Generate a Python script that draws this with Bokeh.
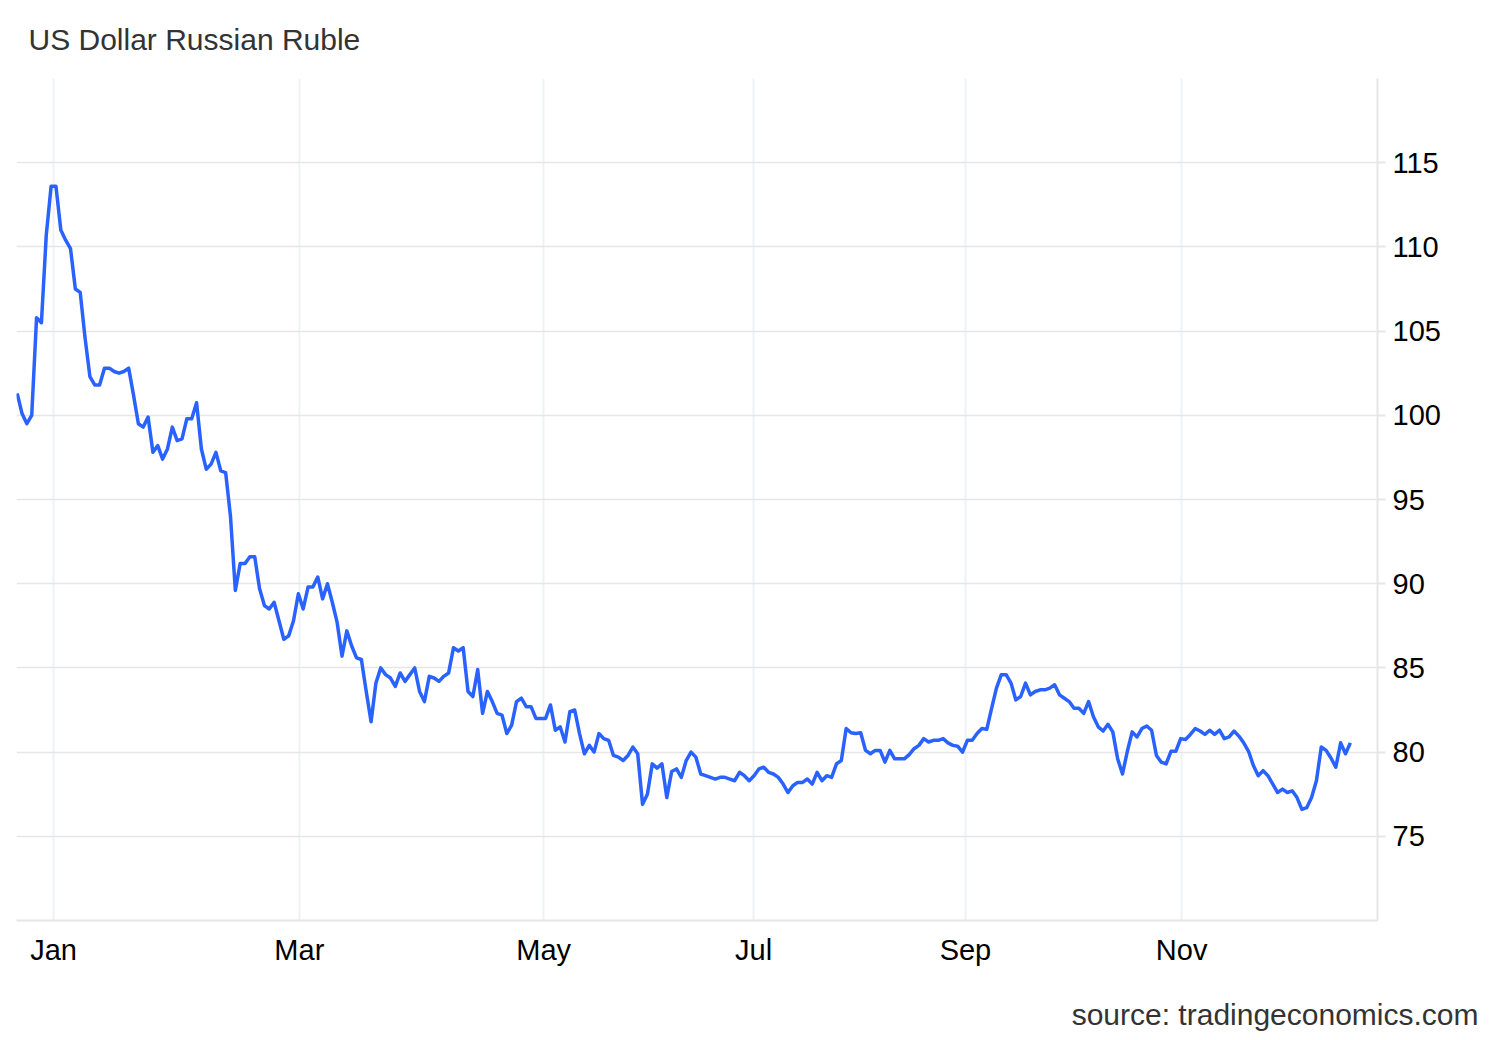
from bokeh.plotting import figure
from bokeh.models import Range1d, FixedTicker, Title, ColumnDataSource
from bokeh.embed import file_html
from bokeh.resources import INLINE

usd_rub = [
    101.3, 100.1, 99.5, 100.0, 105.8, 105.5, 110.7, 113.6, 113.6, 111.0,
    110.4, 109.9, 107.5, 107.3, 104.6, 102.3, 101.8, 101.8, 102.8, 102.8,
    102.6, 102.5, 102.6, 102.8, 101.2, 99.5, 99.3, 99.9, 97.8, 98.2,
    97.4, 98.0, 99.3, 98.5, 98.6, 99.8, 99.8, 100.75, 98.0, 96.8,
    97.1, 97.8, 96.7, 96.6, 94.0, 89.6, 91.2, 91.2, 91.6, 91.6,
    89.7, 88.7, 88.5, 88.9, 87.8, 86.7, 86.9, 87.8, 89.4, 88.5,
    89.8, 89.8, 90.4, 89.1, 90.0, 88.9, 87.7, 85.7, 87.2, 86.3,
    85.6, 85.5, 83.6, 81.8, 84.1, 85.0, 84.6, 84.4, 83.9, 84.7,
    84.2, 84.6, 85.0, 83.6, 83.0, 84.5, 84.4, 84.2, 84.5, 84.7,
    86.2, 86.0, 86.2, 83.6, 83.3, 84.9, 82.3, 83.6, 83.0, 82.3,
    82.2, 81.1, 81.6, 83.0, 83.2, 82.7, 82.7, 82.0, 82.0, 82.0,
    82.8, 81.3, 81.5, 80.6, 82.4, 82.5, 81.1, 79.9, 80.4, 80.0,
    81.1, 80.8, 80.7, 79.8, 79.7, 79.5, 79.8, 80.3, 79.9, 76.9,
    77.5, 79.3, 79.05, 79.3, 77.3, 78.85, 79.0, 78.5, 79.5, 80.0,
    79.7, 78.7, 78.6, 78.5, 78.4, 78.5, 78.5, 78.4, 78.3, 78.8,
    78.6, 78.3, 78.6, 79.0, 79.1, 78.8, 78.7, 78.5, 78.1, 77.6,
    78.0, 78.2, 78.2, 78.4, 78.1, 78.8, 78.3, 78.6, 78.5, 79.3,
    79.5, 81.4, 81.15, 81.1, 81.15, 80.1, 79.9, 80.1, 80.1, 79.4,
    80.1, 79.6, 79.6, 79.6, 79.85, 80.2, 80.4, 80.8, 80.6, 80.7,
    80.7, 80.8, 80.55, 80.4, 80.35, 80.0, 80.7, 80.7, 81.1, 81.4,
    81.35, 82.6, 83.8, 84.6, 84.6, 84.1, 83.1, 83.3, 84.1, 83.4,
    83.6, 83.7, 83.7, 83.8, 84.0, 83.4, 83.2, 83.0, 82.6, 82.6,
    82.3, 83.0, 82.1, 81.5, 81.25, 81.65, 81.2, 79.6, 78.7, 80.05,
    81.2, 80.9, 81.4, 81.55, 81.3, 79.8, 79.4, 79.3, 80.05, 80.05,
    80.8, 80.75, 81.05, 81.4, 81.25, 81.05, 81.3, 81.05, 81.3, 80.8,
    80.9, 81.25, 80.95, 80.55, 80.05, 79.2, 78.6, 78.9, 78.6, 78.1,
    77.6, 77.8, 77.6, 77.7, 77.3, 76.6, 76.7, 77.3, 78.3, 80.3,
    80.1, 79.65, 79.1, 80.55, 79.9, 80.55,
]
session = list(range(len(usd_rub)))

# month tick positions (observation index where each labelled month begins)
month_ticks = [7.5, 58.2, 108.6, 151.9, 195.6, 240.2]
month_labels = ["Jan", "Mar", "May", "Jul", "Sep", "Nov"]
y_ticks = [75, 80, 85, 90, 95, 100, 105, 110, 115]
y_grid = [70, 75, 80, 85, 90, 95, 100, 105, 110, 115, 120]

TITLE = "US Dollar Russian Ruble"
SOURCE = "source: tradingeconomics.com"
FONT = "Liberation Sans"

src = ColumnDataSource(data=dict(x=session, y=usd_rub))

p = figure(width=1484, height=1036, output_backend="svg", toolbar_location=None,
           x_range=Range1d(-0.14, 280.6), y_range=Range1d(70, 120),
           y_axis_location="right",
           min_border_left=16, min_border_right=107,
           min_border_top=78, min_border_bottom=116)
p.outline_line_color = None
p.background_fill_color = "white"
p.border_fill_color = "white"

p.line("x", "y", source=src, line_color="#2962FF", line_width=3.5,
       line_join="round")

# title (above) with an empty spacer panel between it and the plot
p.add_layout(Title(text=" ", text_font_size="1px", standoff=20), "above")
p.add_layout(Title(text=TITLE, align="left", offset=12, vertical_align="bottom",
                   text_font=FONT, text_font_size="30px", text_font_style="normal",
                   text_color="#333333", standoff=0), "above")

# source (below) with an empty spacer panel after the x axis
p.add_layout(Title(text=" ", text_font_size="1px", standoff=24), "below")
p.add_layout(Title(text=SOURCE, align="right", offset=-101, vertical_align="bottom",
                   text_font=FONT, text_font_size="30px", text_font_style="normal",
                   text_color="#333333", standoff=0), "below")

# x axis
xa = p.xaxis[0]
xa.ticker = FixedTicker(ticks=month_ticks)
xa.major_label_overrides = {t: l for t, l in zip(month_ticks, month_labels)}
xa.minor_tick_line_color = None
xa.major_tick_line_color = None
xa.major_tick_out = 0
xa.major_tick_in = 0
xa.major_label_standoff = 13
xa.axis_line_color = "#e6e6e6"
xa.axis_line_width = 2
xa.major_label_text_font = FONT
xa.major_label_text_font_size = "29px"
xa.major_label_text_color = "#000000"

# y axis (right)
ya = p.yaxis[0]
ya.ticker = FixedTicker(ticks=y_ticks)
ya.minor_tick_line_color = None
ya.major_tick_line_color = "#e6e6e6"
ya.major_tick_line_width = 2
ya.major_tick_out = 8
ya.major_tick_in = 0
ya.major_label_standoff = 7
ya.axis_line_color = "#e6e6e6"
ya.axis_line_width = 2
ya.major_label_text_font = FONT
ya.major_label_text_font_size = "29px"
ya.major_label_text_color = "#000000"

# grids
p.xgrid.ticker = FixedTicker(ticks=month_ticks)
p.xgrid.grid_line_color = "#eef1f5"
p.xgrid.grid_line_width = 2
p.ygrid.ticker = FixedTicker(ticks=y_grid)
p.ygrid.grid_line_color = "#e6e6e6"
p.ygrid.grid_line_width = 1.5

open("out.html", "w").write(file_html(p, INLINE))
